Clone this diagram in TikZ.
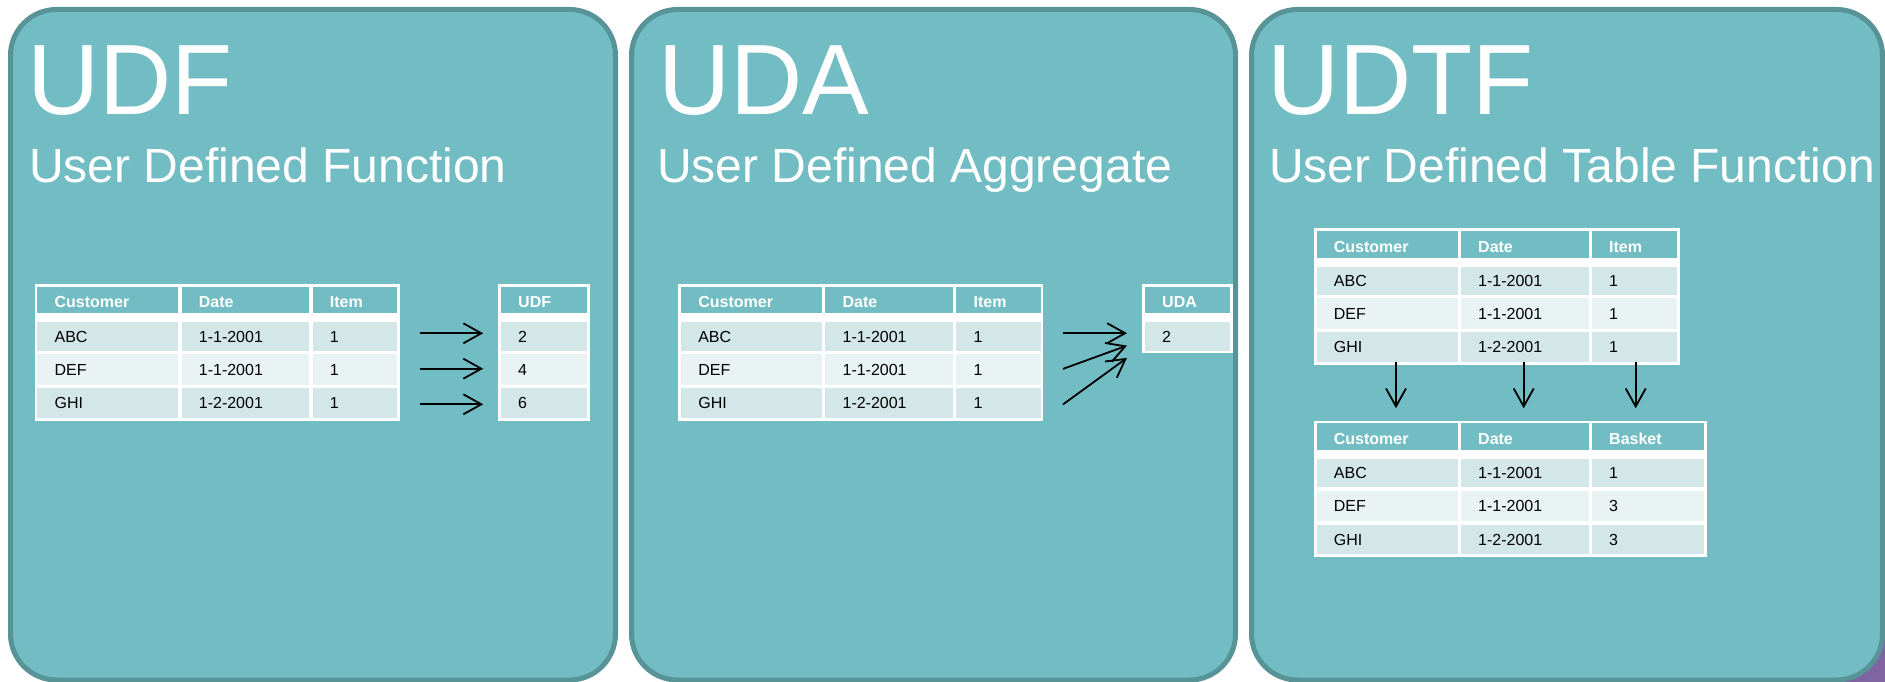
\documentclass[tikz,border=0pt]{standalone}
\usepackage{fontspec}
\setmainfont{Liberation Sans}
\usetikzlibrary{arrows.meta}
\definecolor{panelfill}{RGB}{114,189,195}
\definecolor{panelline}{RGB}{88,147,151}
\definecolor{rowA}{RGB}{211,231,233}
\definecolor{rowB}{RGB}{233,243,244}
\definecolor{cornerpurple}{RGB}{128,100,162}
\tikzset{
  panel/.style={draw=panelline, fill=panelfill, line width=5pt, rounded corners=46pt},
  bigtitle/.style={anchor=base west, inner sep=0pt, text=white, font=\fontsize{100}{110}\selectfont},
  subtitle/.style={anchor=base west, inner sep=0pt, text=white, font=\fontsize{48}{56}\selectfont},
  frame/.style={anchor=north west, inner sep=0pt, outer sep=0pt, fill=white, draw=none},
  cellbase/.style={anchor=north west, inner sep=0pt, outer sep=0pt, draw=none},
  hdrtxt/.style={anchor=base west, inner sep=0pt, text=white, font=\bfseries\fontsize{16}{19}\selectfont},
  bodytxt/.style={anchor=base west, inner sep=0pt, text=black, font=\fontsize{16}{19}\selectfont},
  arr/.style={-{Straight Barb[length=18pt,width=20pt]}, line width=1.8pt, draw=black}
}
% cell: name, x, y, width, height, fill
\newcommand{\cellnode}[6]{\node[cellbase, fill=#6, minimum width=#4, minimum height=#5] (#1) at (#2,#3) {};}
% three-column table: name, x0, y0, right, header3, v1, v2, v3
\newcommand{\tabthree}[8]{%
  \node[frame, minimum width=#4-#2, minimum height=136.5] (#1) at (#2,#3) {};
  \cellnode{#1h1}{#2+2.7}{#3+2.7}{140.8}{26.6}{panelfill}
  \cellnode{#1h2}{#2+147}{#3+2.7}{127.7}{26.6}{panelfill}
  \cellnode{#1h3}{#2+278}{#3+2.7}{#4-#2-280.7}{26.6}{panelfill}
  \cellnode{#1a1}{#2+2.7}{#3+38.3}{140.8}{28.4}{rowA}
  \cellnode{#1a2}{#2+147}{#3+38.3}{127.7}{28.4}{rowA}
  \cellnode{#1a3}{#2+278}{#3+38.3}{#4-#2-280.7}{28.4}{rowA}
  \cellnode{#1b1}{#2+2.7}{#3+70}{140.8}{30.7}{rowB}
  \cellnode{#1b2}{#2+147}{#3+70}{127.7}{30.7}{rowB}
  \cellnode{#1b3}{#2+278}{#3+70}{#4-#2-280.7}{30.7}{rowB}
  \cellnode{#1c1}{#2+2.7}{#3+104}{140.8}{29.7}{rowA}
  \cellnode{#1c2}{#2+147}{#3+104}{127.7}{29.7}{rowA}
  \cellnode{#1c3}{#2+278}{#3+104}{#4-#2-280.7}{29.7}{rowA}
  \node[hdrtxt] (#1h1t) at (#2+19.7,#3+23.7) {Customer};
  \node[hdrtxt] (#1h2t) at (#2+164,#3+23.7) {Date};
  \node[hdrtxt] (#1h3t) at (#2+295,#3+23.7) {#5};
  \node[bodytxt] (#1a1t) at (#2+19.7,#3+58.2) {ABC};
  \node[bodytxt] (#1a2t) at (#2+164,#3+58.2) {1-1-2001};
  \node[bodytxt] (#1a3t) at (#2+295,#3+58.2) {#6};
  \node[bodytxt] (#1b1t) at (#2+19.7,#3+91) {DEF};
  \node[bodytxt] (#1b2t) at (#2+164,#3+91) {1-1-2001};
  \node[bodytxt] (#1b3t) at (#2+295,#3+91) {#7};
  \node[bodytxt] (#1c1t) at (#2+19.7,#3+124.5) {GHI};
  \node[bodytxt] (#1c2t) at (#2+164,#3+124.5) {1-2-2001};
  \node[bodytxt] (#1c3t) at (#2+295,#3+124.5) {#8};
}
\begin{document}
\begin{tikzpicture}[x=1pt,y=-1pt]
\useasboundingbox (0,0) rectangle (1885,682);
\fill[white] (0,0) rectangle (1885,682);
\fill[cornerpurple] (1800,620) rectangle (1890,690);

% panels
\draw[panel] (10.5,9.5) rectangle (615.5,680);
\draw[panel] (631.5,9.5) rectangle (1235.5,680);
\draw[panel] (1251.5,9.5) rectangle (1882.5,680);

% titles
\node[bigtitle] (tudf) at (27,115) {UDF};
\node[subtitle] (sudf) at (29,182.5) {User Defined Function};
\node[bigtitle] (tuda) at (658,115) {UDA};
\node[subtitle] (suda) at (657,182.5) {User Defined Aggregate};
\node[bigtitle] (tudtf) at (1267,115) {UDTF};
\node[subtitle] (sudtf) at (1269,182.5) {User Defined Table Function};

% panel 1 tables
\tabthree{A}{34.7}{284}{399.7}{Item}{1}{1}{1}
\node[frame, minimum width=92, minimum height=136.5] (U) at (498,284) {};
\cellnode{Uh}{501}{286.7}{86}{26.6}{panelfill}
\cellnode{Ua}{501}{322.3}{86}{28.4}{rowA}
\cellnode{Ub}{501}{354}{86}{30.7}{rowB}
\cellnode{Uc}{501}{388}{86}{29.7}{rowA}
\node[hdrtxt] (Uht) at (518,307.7) {UDF};
\node[bodytxt] (Uat) at (518,342.2) {2};
\node[bodytxt] (Ubt) at (518,375) {4};
\node[bodytxt] (Uct) at (518,408.5) {6};

\coordinate (p1s1) at (419.6,333.3); \coordinate (p1e1) at (483.2,333.3);
\coordinate (p1s2) at (419.6,368.7); \coordinate (p1e2) at (483.2,368.7);
\coordinate (p1s3) at (419.6,404.3); \coordinate (p1e3) at (483.2,404.3);
\draw[arr] (p1s1) -- (p1e1);
\draw[arr] (p1s2) -- (p1e2);
\draw[arr] (p1s3) -- (p1e3);

% panel 2 tables
\tabthree{B}{678.4}{284}{1043.4}{Item}{1}{1}{1}
\node[frame, minimum width=91, minimum height=69.4] (V) at (1142,284) {};
\cellnode{Vh}{1145}{286.7}{85}{26.6}{panelfill}
\cellnode{Va}{1145}{322.3}{85}{28.4}{rowA}
\node[hdrtxt] (Vht) at (1162,307.7) {UDA};
\node[bodytxt] (Vat) at (1162,342.2) {2};

\coordinate (p2s1) at (1063,333.2); \coordinate (p2e1) at (1127,333.2);
\coordinate (p2s2) at (1063,368.9); \coordinate (p2e2) at (1127,345.6);
\coordinate (p2s3) at (1063,404.4); \coordinate (p2e3) at (1127,357.9);
\draw[arr] (p2s1) -- (p2e1);
\draw[arr] (p2s2) -- (p2e2);
\draw[arr] (p2s3) -- (p2e3);

% panel 3 tables
\tabthree{C}{1314}{228.3}{1680}{Item}{1}{1}{1}
\tabthree{D}{1314}{420.7}{1706.7}{Basket}{1}{3}{3}

\coordinate (p3s1) at (1396,361.7); \coordinate (p3e1) at (1396,408.3);
\coordinate (p3s2) at (1523.7,361.7); \coordinate (p3e2) at (1523.7,408.3);
\coordinate (p3s3) at (1635.7,361.7); \coordinate (p3e3) at (1635.7,408.3);
\draw[arr] (p3s1) -- (p3e1);
\draw[arr] (p3s2) -- (p3e2);
\draw[arr] (p3s3) -- (p3e3);
\end{tikzpicture}
\end{document}
